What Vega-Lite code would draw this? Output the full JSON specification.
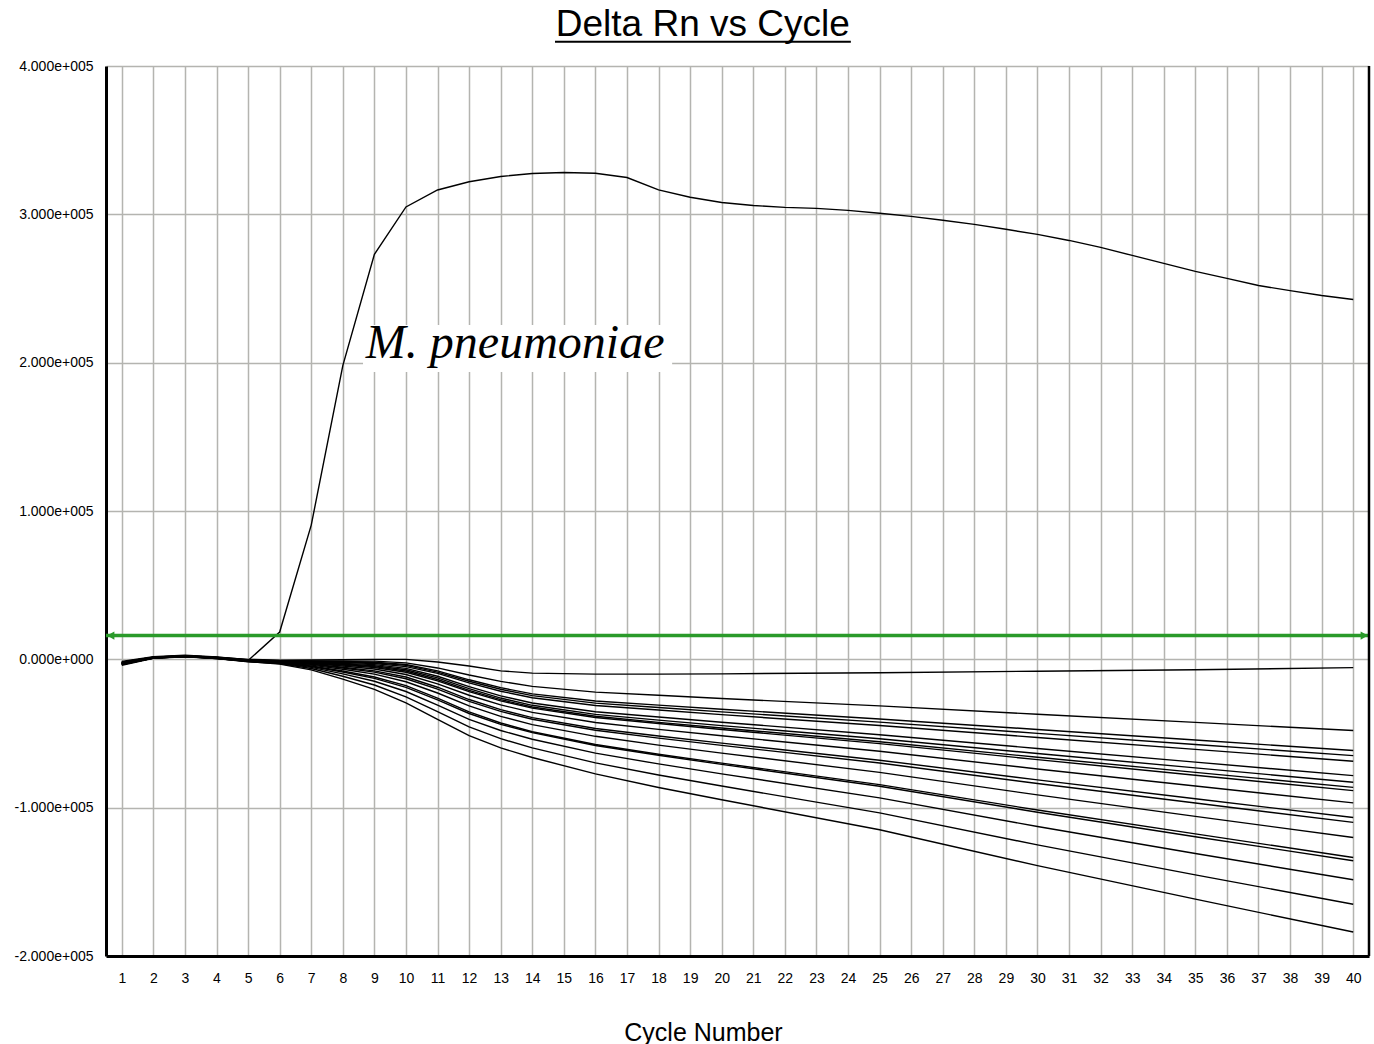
{
"$schema": "https://vega.github.io/schema/vega-lite/v6.json",
"width": 1263,
"height": 890,
"autosize": "none",
"padding": {"left": 106, "top": 66, "right": 5, "bottom": 88},
"background": "white",
"config": {"view": {"stroke": null}},
"layer": [
{
"data": {"values": [
{"s":"mp","c":1,"v":-2500},{"s":"mp","c":2,"v":800},{"s":"mp","c":3,"v":2000},{"s":"mp","c":4,"v":800},{"s":"mp","c":5,"v":-800},{"s":"mp","c":6,"v":18400},{"s":"mp","c":7,"v":90500},{"s":"mp","c":8,"v":198000},{"s":"mp","c":9,"v":273000},{"s":"mp","c":10,"v":305000},{"s":"mp","c":11,"v":316400},{"s":"mp","c":12,"v":322000},{"s":"mp","c":13,"v":325500},{"s":"mp","c":14,"v":327500},{"s":"mp","c":15,"v":328200},{"s":"mp","c":16,"v":327700},{"s":"mp","c":17,"v":324800},{"s":"mp","c":18,"v":316500},{"s":"mp","c":19,"v":311500},{"s":"mp","c":20,"v":308000},{"s":"mp","c":21,"v":306000},{"s":"mp","c":22,"v":304700},{"s":"mp","c":23,"v":304000},{"s":"mp","c":24,"v":302700},{"s":"mp","c":25,"v":300700},{"s":"mp","c":26,"v":298600},{"s":"mp","c":27,"v":296000},{"s":"mp","c":28,"v":293200},{"s":"mp","c":29,"v":289900},{"s":"mp","c":30,"v":286500},{"s":"mp","c":31,"v":282400},{"s":"mp","c":32,"v":277700},{"s":"mp","c":33,"v":272300},{"s":"mp","c":34,"v":266900},{"s":"mp","c":35,"v":261500},{"s":"mp","c":36,"v":256800},{"s":"mp","c":37,"v":252000},{"s":"mp","c":38,"v":248600},{"s":"mp","c":39,"v":245300},{"s":"mp","c":40,"v":242600},
{"s":"n1","c":1,"v":-2000},{"s":"n1","c":2,"v":1500},{"s":"n1","c":3,"v":2500},{"s":"n1","c":4,"v":1500},{"s":"n1","c":5,"v":0},{"s":"n1","c":6,"v":-600},{"s":"n1","c":7,"v":-400},{"s":"n1","c":8,"v":-200},{"s":"n1","c":9,"v":0},{"s":"n1","c":10,"v":0},{"s":"n1","c":11,"v":-1800},{"s":"n1","c":12,"v":-4500},{"s":"n1","c":13,"v":-7800},{"s":"n1","c":14,"v":-9300},{"s":"n1","c":16,"v":-10000},{"s":"n1","c":18,"v":-10000},{"s":"n1","c":20,"v":-9800},{"s":"n1","c":25,"v":-9000},{"s":"n1","c":30,"v":-8000},{"s":"n1","c":35,"v":-7000},{"s":"n1","c":40,"v":-5600},
{"s":"n2","c":1,"v":-1500},{"s":"n2","c":2,"v":1800},{"s":"n2","c":3,"v":2800},{"s":"n2","c":4,"v":1600},{"s":"n2","c":5,"v":-200},{"s":"n2","c":6,"v":-1000},{"s":"n2","c":7,"v":-1100},{"s":"n2","c":8,"v":-1100},{"s":"n2","c":9,"v":-1200},{"s":"n2","c":10,"v":-2400},{"s":"n2","c":11,"v":-5800},{"s":"n2","c":12,"v":-10600},{"s":"n2","c":13,"v":-14900},{"s":"n2","c":14,"v":-18200},{"s":"n2","c":16,"v":-22100},{"s":"n2","c":18,"v":-24200},{"s":"n2","c":20,"v":-26400},{"s":"n2","c":25,"v":-31400},{"s":"n2","c":30,"v":-37000},{"s":"n2","c":35,"v":-42500},{"s":"n2","c":40,"v":-48000},
{"s":"n3","c":1,"v":-2500},{"s":"n3","c":2,"v":1200},{"s":"n3","c":3,"v":2200},{"s":"n3","c":4,"v":1200},{"s":"n3","c":5,"v":-500},{"s":"n3","c":6,"v":-1100},{"s":"n3","c":7,"v":-1300},{"s":"n3","c":8,"v":-1500},{"s":"n3","c":9,"v":-1900},{"s":"n3","c":10,"v":-3500},{"s":"n3","c":11,"v":-7800},{"s":"n3","c":12,"v":-13800},{"s":"n3","c":13,"v":-19100},{"s":"n3","c":14,"v":-23300},{"s":"n3","c":16,"v":-28100},{"s":"n3","c":18,"v":-30900},{"s":"n3","c":20,"v":-33700},{"s":"n3","c":25,"v":-40200},{"s":"n3","c":30,"v":-47300},{"s":"n3","c":35,"v":-54400},{"s":"n3","c":40,"v":-61500},
{"s":"n4","c":1,"v":-3000},{"s":"n4","c":2,"v":1000},{"s":"n4","c":3,"v":2000},{"s":"n4","c":4,"v":1000},{"s":"n4","c":5,"v":-600},{"s":"n4","c":6,"v":-1100},{"s":"n4","c":7,"v":-1400},{"s":"n4","c":8,"v":-1800},{"s":"n4","c":9,"v":-2300},{"s":"n4","c":10,"v":-4100},{"s":"n4","c":11,"v":-8600},{"s":"n4","c":12,"v":-14800},{"s":"n4","c":13,"v":-20200},{"s":"n4","c":14,"v":-24500},{"s":"n4","c":16,"v":-29500},{"s":"n4","c":18,"v":-32500},{"s":"n4","c":20,"v":-35400},{"s":"n4","c":25,"v":-42300},{"s":"n4","c":30,"v":-49900},{"s":"n4","c":35,"v":-57400},{"s":"n4","c":40,"v":-64900},
{"s":"n5","c":1,"v":-2000},{"s":"n5","c":2,"v":1500},{"s":"n5","c":3,"v":2500},{"s":"n5","c":4,"v":1300},{"s":"n5","c":5,"v":-400},{"s":"n5","c":6,"v":-1200},{"s":"n5","c":7,"v":-1600},{"s":"n5","c":8,"v":-2100},{"s":"n5","c":9,"v":-2800},{"s":"n5","c":10,"v":-4900},{"s":"n5","c":11,"v":-9500},{"s":"n5","c":12,"v":-15900},{"s":"n5","c":13,"v":-21500},{"s":"n5","c":14,"v":-25900},{"s":"n5","c":16,"v":-31100},{"s":"n5","c":18,"v":-34200},{"s":"n5","c":20,"v":-37300},{"s":"n5","c":25,"v":-44600},{"s":"n5","c":30,"v":-52700},{"s":"n5","c":35,"v":-60700},{"s":"n5","c":40,"v":-68700},
{"s":"n6","c":1,"v":-3500},{"s":"n6","c":2,"v":800},{"s":"n6","c":3,"v":1800},{"s":"n6","c":4,"v":900},{"s":"n6","c":5,"v":-800},{"s":"n6","c":6,"v":-1200},{"s":"n6","c":7,"v":-1900},{"s":"n6","c":8,"v":-2700},{"s":"n6","c":9,"v":-3600},{"s":"n6","c":10,"v":-6100},{"s":"n6","c":11,"v":-11400},{"s":"n6","c":12,"v":-18400},{"s":"n6","c":13,"v":-24600},{"s":"n6","c":14,"v":-29400},{"s":"n6","c":16,"v":-35300},{"s":"n6","c":18,"v":-38900},{"s":"n6","c":20,"v":-42400},{"s":"n6","c":25,"v":-50800},{"s":"n6","c":30,"v":-60100},{"s":"n6","c":35,"v":-69300},{"s":"n6","c":40,"v":-78400},
{"s":"n7","c":1,"v":-2500},{"s":"n7","c":2,"v":1200},{"s":"n7","c":3,"v":2300},{"s":"n7","c":4,"v":1100},{"s":"n7","c":5,"v":-700},{"s":"n7","c":6,"v":-1300},{"s":"n7","c":7,"v":-2100},{"s":"n7","c":8,"v":-3100},{"s":"n7","c":9,"v":-4300},{"s":"n7","c":10,"v":-7000},{"s":"n7","c":11,"v":-12500},{"s":"n7","c":12,"v":-19800},{"s":"n7","c":13,"v":-26100},{"s":"n7","c":14,"v":-31000},{"s":"n7","c":16,"v":-37100},{"s":"n7","c":18,"v":-41000},{"s":"n7","c":20,"v":-44700},{"s":"n7","c":25,"v":-53500},{"s":"n7","c":30,"v":-63500},{"s":"n7","c":35,"v":-73200},{"s":"n7","c":40,"v":-82900},
{"s":"n8","c":1,"v":-3000},{"s":"n8","c":2,"v":1000},{"s":"n8","c":3,"v":2000},{"s":"n8","c":4,"v":900},{"s":"n8","c":5,"v":-900},{"s":"n8","c":6,"v":-1400},{"s":"n8","c":7,"v":-2300},{"s":"n8","c":8,"v":-3500},{"s":"n8","c":9,"v":-4900},{"s":"n8","c":10,"v":-7900},{"s":"n8","c":11,"v":-13600},{"s":"n8","c":12,"v":-20900},{"s":"n8","c":13,"v":-27200},{"s":"n8","c":14,"v":-32100},{"s":"n8","c":16,"v":-38400},{"s":"n8","c":18,"v":-42500},{"s":"n8","c":20,"v":-46300},{"s":"n8","c":25,"v":-55600},{"s":"n8","c":30,"v":-66000},{"s":"n8","c":35,"v":-76200},{"s":"n8","c":40,"v":-86300},
{"s":"n9","c":1,"v":-2000},{"s":"n9","c":2,"v":1400},{"s":"n9","c":3,"v":2400},{"s":"n9","c":4,"v":1200},{"s":"n9","c":5,"v":-600},{"s":"n9","c":6,"v":-1500},{"s":"n9","c":7,"v":-2500},{"s":"n9","c":8,"v":-3900},{"s":"n9","c":9,"v":-5500},{"s":"n9","c":10,"v":-8700},{"s":"n9","c":11,"v":-14500},{"s":"n9","c":12,"v":-21800},{"s":"n9","c":13,"v":-28000},{"s":"n9","c":14,"v":-32900},{"s":"n9","c":16,"v":-39200},{"s":"n9","c":18,"v":-43300},{"s":"n9","c":20,"v":-47300},{"s":"n9","c":25,"v":-56800},{"s":"n9","c":30,"v":-67600},{"s":"n9","c":35,"v":-78100},{"s":"n9","c":40,"v":-88500},
{"s":"n10","c":1,"v":-3500},{"s":"n10","c":2,"v":900},{"s":"n10","c":3,"v":1900},{"s":"n10","c":4,"v":800},{"s":"n10","c":5,"v":-1000},{"s":"n10","c":6,"v":-1600},{"s":"n10","c":7,"v":-2800},{"s":"n10","c":8,"v":-4500},{"s":"n10","c":9,"v":-6500},{"s":"n10","c":10,"v":-10200},{"s":"n10","c":11,"v":-16500},{"s":"n10","c":12,"v":-24200},{"s":"n10","c":13,"v":-30700},{"s":"n10","c":14,"v":-35800},{"s":"n10","c":16,"v":-42600},{"s":"n10","c":18,"v":-47200},{"s":"n10","c":20,"v":-51500},{"s":"n10","c":25,"v":-62000},{"s":"n10","c":30,"v":-73900},{"s":"n10","c":35,"v":-85400},{"s":"n10","c":40,"v":-96800},
{"s":"n11","c":1,"v":-2500},{"s":"n11","c":2,"v":1300},{"s":"n11","c":3,"v":2200},{"s":"n11","c":4,"v":1000},{"s":"n11","c":5,"v":-900},{"s":"n11","c":6,"v":-1700},{"s":"n11","c":7,"v":-3200},{"s":"n11","c":8,"v":-5300},{"s":"n11","c":9,"v":-7800},{"s":"n11","c":10,"v":-11900},{"s":"n11","c":11,"v":-18800},{"s":"n11","c":12,"v":-27100},{"s":"n11","c":13,"v":-33900},{"s":"n11","c":14,"v":-39300},{"s":"n11","c":16,"v":-46600},{"s":"n11","c":18,"v":-51700},{"s":"n11","c":20,"v":-56500},{"s":"n11","c":25,"v":-68000},{"s":"n11","c":30,"v":-81300},{"s":"n11","c":35,"v":-94000},{"s":"n11","c":40,"v":-106600},
{"s":"n12","c":1,"v":-3000},{"s":"n12","c":2,"v":1100},{"s":"n12","c":3,"v":2000},{"s":"n12","c":4,"v":800},{"s":"n12","c":5,"v":-1100},{"s":"n12","c":6,"v":-1800},{"s":"n12","c":7,"v":-3400},{"s":"n12","c":8,"v":-5800},{"s":"n12","c":9,"v":-8600},{"s":"n12","c":10,"v":-13100},{"s":"n12","c":11,"v":-20100},{"s":"n12","c":12,"v":-28300},{"s":"n12","c":13,"v":-35100},{"s":"n12","c":14,"v":-40400},{"s":"n12","c":16,"v":-47800},{"s":"n12","c":18,"v":-53100},{"s":"n12","c":20,"v":-58000},{"s":"n12","c":25,"v":-69900},{"s":"n12","c":30,"v":-83700},{"s":"n12","c":35,"v":-96900},{"s":"n12","c":40,"v":-109900},
{"s":"n13","c":1,"v":-4000},{"s":"n13","c":2,"v":700},{"s":"n13","c":3,"v":1700},{"s":"n13","c":4,"v":600},{"s":"n13","c":5,"v":-1200},{"s":"n13","c":6,"v":-2000},{"s":"n13","c":7,"v":-3900},{"s":"n13","c":8,"v":-6700},{"s":"n13","c":9,"v":-10000},{"s":"n13","c":10,"v":-15100},{"s":"n13","c":11,"v":-22700},{"s":"n13","c":12,"v":-31400},{"s":"n13","c":13,"v":-38500},{"s":"n13","c":14,"v":-44000},{"s":"n13","c":16,"v":-51900},{"s":"n13","c":18,"v":-57800},{"s":"n13","c":20,"v":-63200},{"s":"n13","c":25,"v":-76200},{"s":"n13","c":30,"v":-91400},{"s":"n13","c":35,"v":-105900},{"s":"n13","c":40,"v":-120100},
{"s":"n14","c":1,"v":-2500},{"s":"n14","c":2,"v":1200},{"s":"n14","c":3,"v":2100},{"s":"n14","c":4,"v":900},{"s":"n14","c":5,"v":-1100},{"s":"n14","c":6,"v":-2200},{"s":"n14","c":7,"v":-4500},{"s":"n14","c":8,"v":-7900},{"s":"n14","c":9,"v":-11900},{"s":"n14","c":10,"v":-17700},{"s":"n14","c":11,"v":-26100},{"s":"n14","c":12,"v":-35400},{"s":"n14","c":13,"v":-42900},{"s":"n14","c":14,"v":-48800},{"s":"n14","c":16,"v":-57400},{"s":"n14","c":18,"v":-64000},{"s":"n14","c":20,"v":-70000},{"s":"n14","c":25,"v":-84500},{"s":"n14","c":30,"v":-101600},{"s":"n14","c":35,"v":-117700},{"s":"n14","c":40,"v":-133600},
{"s":"n15","c":1,"v":-3000},{"s":"n15","c":2,"v":1000},{"s":"n15","c":3,"v":1900},{"s":"n15","c":4,"v":700},{"s":"n15","c":5,"v":-1300},{"s":"n15","c":6,"v":-2300},{"s":"n15","c":7,"v":-4800},{"s":"n15","c":8,"v":-8500},{"s":"n15","c":9,"v":-12800},{"s":"n15","c":10,"v":-18900},{"s":"n15","c":11,"v":-27300},{"s":"n15","c":12,"v":-36500},{"s":"n15","c":13,"v":-43800},{"s":"n15","c":14,"v":-49400},{"s":"n15","c":16,"v":-58100},{"s":"n15","c":18,"v":-64700},{"s":"n15","c":20,"v":-70800},{"s":"n15","c":25,"v":-85600},{"s":"n15","c":30,"v":-103100},{"s":"n15","c":35,"v":-119600},{"s":"n15","c":40,"v":-135800},
{"s":"n16","c":1,"v":-3500},{"s":"n16","c":2,"v":800},{"s":"n16","c":3,"v":1800},{"s":"n16","c":4,"v":600},{"s":"n16","c":5,"v":-1400},{"s":"n16","c":6,"v":-2600},{"s":"n16","c":7,"v":-5400},{"s":"n16","c":8,"v":-9800},{"s":"n16","c":9,"v":-14800},{"s":"n16","c":10,"v":-21700},{"s":"n16","c":11,"v":-30800},{"s":"n16","c":12,"v":-40500},{"s":"n16","c":13,"v":-48000},{"s":"n16","c":14,"v":-53900},{"s":"n16","c":16,"v":-63200},{"s":"n16","c":18,"v":-70500},{"s":"n16","c":20,"v":-77200},{"s":"n16","c":25,"v":-93400},{"s":"n16","c":30,"v":-112700},{"s":"n16","c":35,"v":-130900},{"s":"n16","c":40,"v":-148600},
{"s":"n17","c":1,"v":-2500},{"s":"n17","c":2,"v":1100},{"s":"n17","c":3,"v":2000},{"s":"n17","c":4,"v":700},{"s":"n17","c":5,"v":-1500},{"s":"n17","c":6,"v":-2900},{"s":"n17","c":7,"v":-6200},{"s":"n17","c":8,"v":-11400},{"s":"n17","c":9,"v":-17300},{"s":"n17","c":10,"v":-25300},{"s":"n17","c":11,"v":-35300},{"s":"n17","c":12,"v":-45600},{"s":"n17","c":13,"v":-53500},{"s":"n17","c":14,"v":-59700},{"s":"n17","c":16,"v":-69800},{"s":"n17","c":18,"v":-78000},{"s":"n17","c":20,"v":-85400},{"s":"n17","c":25,"v":-103500},{"s":"n17","c":30,"v":-125100},{"s":"n17","c":35,"v":-145300},{"s":"n17","c":40,"v":-165100},
{"s":"n18","c":1,"v":-3000},{"s":"n18","c":2,"v":900},{"s":"n18","c":3,"v":1800},{"s":"n18","c":4,"v":500},{"s":"n18","c":5,"v":-1600},{"s":"n18","c":6,"v":-3200},{"s":"n18","c":7,"v":-7100},{"s":"n18","c":8,"v":-13300},{"s":"n18","c":9,"v":-20200},{"s":"n18","c":10,"v":-29400},{"s":"n18","c":11,"v":-40400},{"s":"n18","c":12,"v":-51500},{"s":"n18","c":13,"v":-59700},{"s":"n18","c":14,"v":-66200},{"s":"n18","c":16,"v":-77200},{"s":"n18","c":18,"v":-86400},{"s":"n18","c":20,"v":-94700},{"s":"n18","c":25,"v":-114900},{"s":"n18","c":30,"v":-139100},{"s":"n18","c":35,"v":-161700},{"s":"n18","c":40,"v":-183800}
]},
"mark": {"type": "line", "color": "#000000", "strokeWidth": 1.4, "interpolate": "linear"},
"encoding": {
"x": {"field": "c", "type": "quantitative",
"scale": {"domain": [0.5, 40.5], "nice": false, "zero": false},
"axis": {"values": [1,2,3,4,5,6,7,8,9,10,11,12,13,14,15,16,17,18,19,20,21,22,23,24,25,26,27,28,29,30,31,32,33,34,35,36,37,38,39,40],
"tickCount": 60, "format": "d", "labelFont": "Liberation Sans", "labelFontSize": 14, "labelColor": "#000000", "ticks": false, "labelPadding": 15, "labelFlush": false, "labelOverlap": false, "labelBound": false,
"domainColor": "#000000", "domainWidth": 3, "grid": true, "gridColor": "#b4b4b0", "gridWidth": 1.5,
"title": "Cycle Number", "titleFont": "Liberation Sans", "titleFontSize": 25, "titleFontWeight": "normal", "titleColor": "#000000", "titleX": 597, "titleY": 84, "titleBaseline": "alphabetic", "titleAlign": "center"}},
"y": {"field": "v", "type": "quantitative",
"scale": {"domain": [-200000, 400000], "nice": false, "zero": false},
"axis": {"values": [-200000, -100000, 0, 100000, 200000, 300000, 400000],
"labelExpr": "datum.value == 0 ? '0.000e+000' : (datum.value < 0 ? '-' : '') + format(abs(datum.value) / 100000, '.3f') + 'e+005'",
"labelFont": "Liberation Sans", "labelFontSize": 14, "labelColor": "#000000", "ticks": false, "labelPadding": 13, "labelOverlap": false, "labelBound": false, "labelFlush": false,
"domainColor": "#000000", "domainWidth": 3, "grid": true, "gridColor": "#b4b4b0", "gridWidth": 1.5, "title": null}},
"detail": {"field": "s", "type": "nominal"}
}
},
{
"data": {"values": [{}]},
"mark": {"type": "rule", "color": "#2a9a2a", "strokeWidth": 3.5},
"encoding": {"y": {"datum": 16000}}
},
{
"data": {"values": [{}]},
"mark": {"type": "point", "shape": "triangle-left", "filled": true, "color": "#2a9a2a", "opacity": 1, "size": 70},
"encoding": {"x": {"datum": 0.65}, "y": {"datum": 16000}}
},
{
"data": {"values": [{}]},
"mark": {"type": "point", "shape": "triangle-right", "filled": true, "color": "#2a9a2a", "opacity": 1, "size": 70},
"encoding": {"x": {"datum": 40.35}, "y": {"datum": 16000}}
},
{
"data": {"values": [{}]},
"mark": {"type": "rule", "color": "#000000", "strokeWidth": 2.5},
"encoding": {"x": {"datum": 40.5}}
},
{
"data": {"values": [{}]},
"mark": {"type": "rect", "color": "#ffffff", "opacity": 1},
"encoding": {"x": {"datum": 8.64}, "x2": {"datum": 18.43}, "y": {"datum": 225400}, "y2": {"datum": 193700}}
},
{
"data": {"values": [{}]},
"mark": {"type": "text", "font": "Liberation Serif", "fontStyle": "italic", "fontSize": 48, "color": "#000000", "align": "left", "baseline": "alphabetic"},
"encoding": {"x": {"datum": 8.73}, "y": {"datum": 203100}, "text": {"value": "M. pneumoniae"}}
},
{
"data": {"values": [{}]},
"mark": {"type": "text", "font": "Liberation Sans", "fontSize": 37, "color": "#000000", "align": "center", "baseline": "alphabetic"},
"encoding": {"x": {"datum": 19.4}, "y": {"datum": 420200}, "text": {"value": "Delta Rn vs Cycle"}}
},
{
"data": {"values": [{}]},
"mark": {"type": "rule", "color": "#000000", "strokeWidth": 2},
"encoding": {"x": {"datum": 14.72}, "x2": {"datum": 24.09}, "y": {"datum": 416400}}
}
]
}
